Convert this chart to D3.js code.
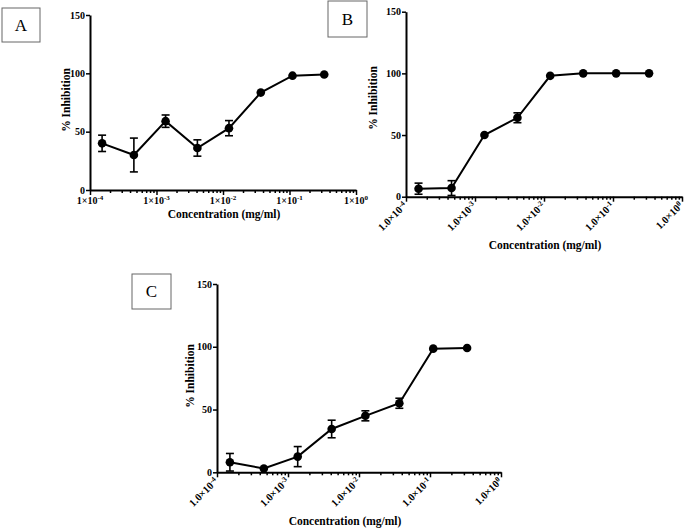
<!DOCTYPE html>
<html>
<head>
<meta charset="utf-8">
<script src="https://cdn.jsdelivr.net/npm/d3@7/dist/d3.min.js"></script>
<style>
  html, body { margin: 0; padding: 0; background: #fff; }
  svg { display: block; }
  svg text { font-family: "Liberation Serif", "Times New Roman", serif !important; }
</style>
</head>
<body>
<svg id="chart" width="685" height="529" font-family="Liberation Serif"></svg>
<script>
// ---- data ----
const conc = [0.000152, 0.000457, 0.00137, 0.00412, 0.0123, 0.037, 0.111, 0.333];
const inhibA = [40, 30, 59, 36, 53, 83.5, 98, 99];
const errA = [7, 14.5, 5.3, 7, 6.5, 0, 0, 0];
const inhibB = [6.5, 7, 50, 64, 98, 100, 100, 100];
const errB = [4.5, 6, 0, 4, 0, 0, 0, 0];
const inhibC = [8, 3, 12.5, 34.5, 45, 55, 98.5, 99];
const errC = [7, 0, 8, 7, 4, 4, 0, 0];
const yTicks = [0, 50, 100, 150];
const xMajor = [1e-4, 1e-3, 1e-2, 1e-1, 1];
const xLabelsA = ["1×10^-4", "1×10^-3", "1×10^-2", "1×10^-1", "1×10^0"];
const xLabelsBC = ["1.0×10^-4", "1.0×10^-3", "1.0×10^-2", "1.0×10^-1", "1.0×10^0"];
const yTitle = "% Inhibition";
const xTitle = "Concentration (mg/ml)";

const svg = d3.select("#chart");
const FONT = "Liberation Serif";

function panel(cfg) {
  const g = svg.append("g").attr("font-family", FONT);
  const x = d3.scaleLog().domain([1e-4, 1]).range([cfg.x0, cfg.x1]);
  const y = d3.scaleLinear().domain([0, 150]).range([cfg.y0, cfg.y1]);

  // label box
  g.append("rect").attr("x", cfg.box[0]).attr("y", cfg.box[1])
    .attr("width", cfg.box[2]).attr("height", cfg.box[3])
    .attr("fill", "none").attr("stroke", "#666").attr("stroke-width", 1);
  g.append("text").attr("x", cfg.box[0] + cfg.box[2] / 2).attr("y", cfg.box[1] + cfg.box[3] / 2)
    .attr("dy", "0.35em").attr("text-anchor", "middle")
    .attr("font-size", 17).text(cfg.letter);

  // y axis
  const ya = g.append("g").attr("transform", `translate(${cfg.x0},0)`)
    .call(d3.axisLeft(y).tickValues(yTicks).tickSize(4).tickSizeOuter(0).tickPadding(1));
  ya.attr("font-family", FONT);
  ya.select(".domain").attr("stroke-width", 2);
  ya.selectAll(".tick line").attr("stroke-width", 1.5);
  ya.selectAll(".tick text").attr("font-family", FONT).attr("font-weight", "bold")
    .attr("font-size", 10).attr("fill", "#000");

  // x axis minor
  const minor = x.ticks().filter(v => !xMajor.some(m => Math.abs(m - v) / m < 1e-6));
  const xm = g.append("g").attr("transform", `translate(0,${cfg.y0})`)
    .call(d3.axisBottom(x).tickValues(minor).tickSize(3).tickSizeOuter(0).tickFormat(""));
  xm.select(".domain").attr("stroke-width", 2);
  xm.selectAll(".tick line").attr("stroke-width", 1.5);
  const xa = g.append("g").attr("transform", `translate(0,${cfg.y0})`)
    .call(d3.axisBottom(x).tickValues(xMajor).tickSize(5).tickSizeOuter(0).tickFormat(""));
  xa.select(".domain").remove();
  xa.selectAll(".tick line").attr("stroke-width", 1.5);

  // x tick labels
  xMajor.forEach((v, i) => {
    const parts = cfg.labels[i].split("^");
    let t;
    if (cfg.rotate) {
      t = g.append("text")
        .attr("transform", `translate(${x(v) - 1},${cfg.y0 + 7}) rotate(-45)`)
        .attr("text-anchor", "end").attr("dy", "0.35em");
    } else {
      t = g.append("text").attr("x", x(v)).attr("y", cfg.y0 + 10)
        .attr("text-anchor", "middle").attr("dy", "0.35em");
    }
    t.attr("font-family", FONT).attr("font-weight", "bold").attr("font-size", cfg.tickFont);
    t.append("tspan").text(parts[0]);
    t.append("tspan").attr("dy", "-0.45em").attr("font-size", cfg.tickFont * 0.7).text(parts[1]);
  });

  // titles
  g.append("text").attr("transform", `translate(${cfg.ytPos[0]},${cfg.ytPos[1]}) rotate(-90)`)
    .attr("text-anchor", "middle").attr("dy", "0.35em").attr("font-family", FONT)
    .attr("font-weight", "bold").attr("font-size", 11.5).text(yTitle);
  g.append("text").attr("x", cfg.xtPos[0]).attr("y", cfg.xtPos[1])
    .attr("text-anchor", "middle").attr("dy", "0.35em").attr("font-family", FONT)
    .attr("font-weight", "bold").attr("font-size", 11.5).text(xTitle);

  // error bars
  const data = conc.map((c, i) => ({ c, v: cfg.vals[i], e: cfg.errs[i] }));
  const eb = g.append("g").attr("stroke", "#000").attr("stroke-width", 1.6);
  data.filter(d => d.e > 0).forEach(d => {
    const cx = x(d.c);
    eb.append("line").attr("x1", cx).attr("x2", cx).attr("y1", y(d.v - d.e)).attr("y2", y(d.v + d.e));
    eb.append("line").attr("x1", cx - 4).attr("x2", cx + 4).attr("y1", y(d.v - d.e)).attr("y2", y(d.v - d.e));
    eb.append("line").attr("x1", cx - 4).attr("x2", cx + 4).attr("y1", y(d.v + d.e)).attr("y2", y(d.v + d.e));
  });

  // line
  g.append("path").datum(data)
    .attr("d", d3.line().x(d => x(d.c)).y(d => y(d.v)))
    .attr("fill", "none").attr("stroke", "#000").attr("stroke-width", 2);

  // points
  g.selectAll("circle.pt").data(data).enter().append("circle")
    .attr("cx", d => x(d.c)).attr("cy", d => y(d.v)).attr("r", 4.3).attr("fill", "#000");
}

panel({ letter: "A", box: [2, 8, 38, 34], x0: 90, x1: 356, y0: 190, y1: 15,
  vals: inhibA, errs: errA, labels: xLabelsA, rotate: false, tickFont: 10,
  ytPos: [66, 100], xtPos: [224, 214] });
panel({ letter: "B", box: [328, 1, 39, 36], x0: 406, x1: 682, y0: 196.7, y1: 11.7,
  vals: inhibB, errs: errB, labels: xLabelsBC, rotate: true, tickFont: 10.5,
  ytPos: [373, 98], xtPos: [545, 245] });
panel({ letter: "C", box: [132, 274, 39, 35], x0: 217, x1: 501, y0: 472.3, y1: 284,
  vals: inhibC, errs: errC, labels: xLabelsBC, rotate: true, tickFont: 10.5,
  ytPos: [190, 376], xtPos: [345, 521] });
</script>
</body>
</html>
